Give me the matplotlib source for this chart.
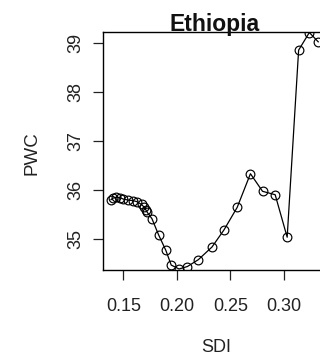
import matplotlib
matplotlib.use("Agg")
import matplotlib.pyplot as plt

title = "Ethiopia"
xlabel = "SDI"
ylabel = "PWC"
sdi = [0.1385, 0.1404, 0.1436, 0.1469, 0.1500, 0.1547, 0.1588, 0.1625, 0.1670,
       0.1692, 0.1710, 0.1723, 0.1767, 0.1829, 0.1897, 0.1947, 0.2020, 0.2098,
       0.2200, 0.2328, 0.2440, 0.2563, 0.2687, 0.2800, 0.2918, 0.3030, 0.3137,
       0.3237, 0.3320]
pwc = [35.80, 35.83, 35.85, 35.84, 35.81, 35.79, 35.78, 35.76, 35.70,
       35.65, 35.59, 35.54, 35.41, 35.08, 34.76, 34.46, 34.38, 34.43,
       34.57, 34.83, 35.18, 35.64, 36.33, 35.97, 35.90, 35.03, 38.86,
       39.22, 39.03]
xticks = [0.15, 0.20, 0.25, 0.30]
xticklabels = ["0.15", "0.20", "0.25", "0.30"]
yticks = [35, 36, 37, 38, 39]
yticklabels = ["35", "36", "37", "38", "39"]

plt.rcParams['font.family'] = ['Liberation Sans', 'DejaVu Sans']

W, H = 320, 358
fig = plt.figure(figsize=(W / 100, H / 100), dpi=100)
ax = fig.add_axes([103 / W, (H - 270) / H, (327 - 103) / W, (270 - 32) / H])
ax.plot(sdi, pwc, color='black', lw=0.9, marker='o', markersize=6.3,
        markerfacecolor='none', markeredgecolor='black', markeredgewidth=0.85)
ax.set_xlim(0.1310, 0.3402)
ax.set_ylim(34.359, 39.231)
ax.set_xticks(xticks)
ax.set_xticklabels(xticklabels)
ax.set_yticks(yticks)
ax.set_yticklabels(yticklabels, rotation=90, va='center')
for s in ax.spines.values():
    s.set_linewidth(1.0)
    s.set_color('black')
ax.tick_params(axis='both', length=7.5, width=0.9, labelsize=13, colors='#222222')
ax.tick_params(axis='x', pad=13)
ax.tick_params(axis='y', pad=6)

fig.text(215 / W, (H - 31) / H, title, ha='center', va='baseline',
         fontsize=16.5, fontweight='bold', color='#111111')
fig.text(216 / W, (H - 347.5) / H, xlabel, ha='center', va='center', fontsize=13,
         color='#222222')
fig.text(32 / W, (H - 153) / H, ylabel, ha='center', va='center', fontsize=13.5,
         rotation=90, color='#222222')

fig.savefig("out.png", dpi=100)
